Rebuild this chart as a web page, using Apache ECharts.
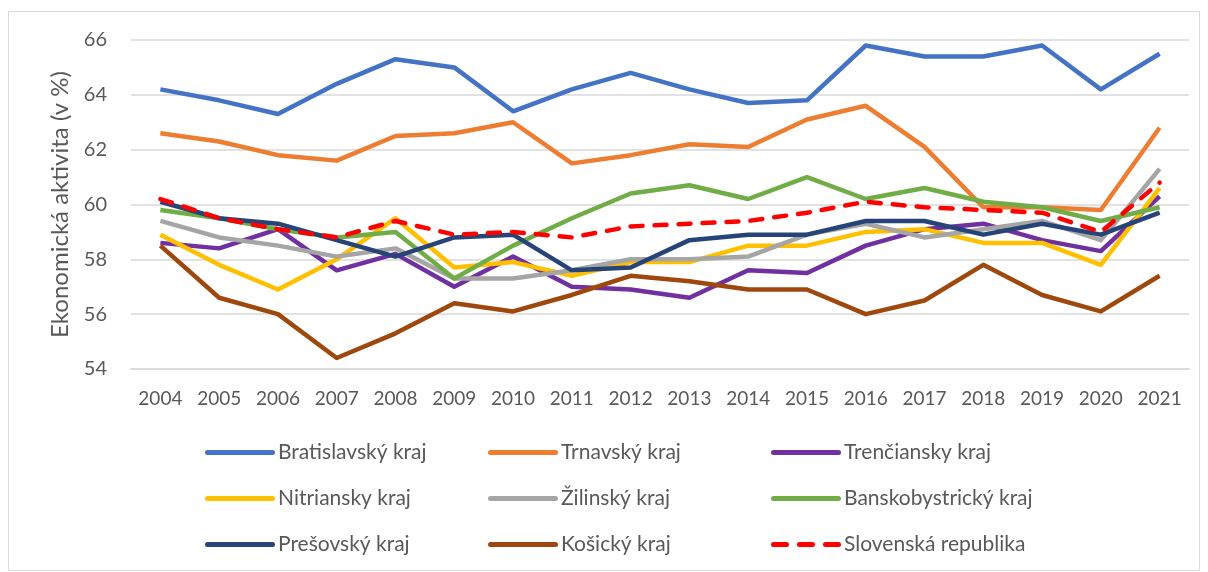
<!DOCTYPE html>
<html>
<head>
<meta charset="utf-8">
<script src="https://cdn.jsdelivr.net/npm/echarts@6/dist/echarts.min.js"></script>
<style>
  html, body { margin: 0; padding: 0; background: #fff; }
  #chart { width: 1208px; height: 572px; }
</style>
</head>
<body>
<div id="chart"></div>
<script>
// roky
const years = ['2004','2005','2006','2007','2008','2009','2010','2011','2012',
  '2013','2014','2015','2016','2017','2018','2019','2020','2021'];

// ekonomická aktivita v % podľa krajov
const bratislavsky      = [64.2, 63.8, 63.3, 64.4, 65.3, 65.0, 63.4, 64.2, 64.8, 64.2, 63.7, 63.8, 65.8, 65.4, 65.4, 65.8, 64.2, 65.5];
const trnavsky          = [62.6, 62.3, 61.8, 61.6, 62.5, 62.6, 63.0, 61.5, 61.8, 62.2, 62.1, 63.1, 63.6, 62.1, 59.9, 59.9, 59.8, 62.8];
const trenciansky       = [58.6, 58.4, 59.1, 57.6, 58.2, 57.0, 58.1, 57.0, 56.9, 56.6, 57.6, 57.5, 58.5, 59.1, 59.3, 58.7, 58.3, 60.3];
const nitriansky        = [58.9, 57.8, 56.9, 58.0, 59.5, 57.7, 57.9, 57.4, 57.9, 57.9, 58.5, 58.5, 59.0, 59.1, 58.6, 58.6, 57.8, 60.6];
const zilinsky          = [59.4, 58.8, 58.5, 58.1, 58.4, 57.3, 57.3, 57.6, 58.0, 58.0, 58.1, 58.9, 59.3, 58.8, 59.1, 59.4, 58.7, 61.3];
const banskobystricky   = [59.8, 59.5, 59.1, 58.8, 59.0, 57.3, 58.5, 59.5, 60.4, 60.7, 60.2, 61.0, 60.2, 60.6, 60.1, 59.9, 59.4, 59.9];
const presovsky         = [60.1, 59.5, 59.3, 58.7, 58.1, 58.8, 58.9, 57.6, 57.7, 58.7, 58.9, 58.9, 59.4, 59.4, 58.9, 59.3, 58.9, 59.7];
const kosicky           = [58.5, 56.6, 56.0, 54.4, 55.3, 56.4, 56.1, 56.7, 57.4, 57.2, 56.9, 56.9, 56.0, 56.5, 57.8, 56.7, 56.1, 57.4];
const slovenskaRepublika= [60.2, 59.5, 59.1, 58.8, 59.4, 58.9, 59.0, 58.8, 59.2, 59.3, 59.4, 59.7, 60.1, 59.9, 59.8, 59.7, 59.0, 60.8];

const yTicks = { min: 54, max: 66, step: 2 };

const textColor = '#595959';
const font = 'Lato, "Open Sans", sans-serif';

const seriesDefs = [
  { name: 'Bratislavský kraj', data: bratislavsky, color: '#4472C4' },
  { name: 'Trnavský kraj', data: trnavsky, color: '#ED7D31' },
  { name: 'Trenčiansky kraj', data: trenciansky, color: '#7030A0' },
  { name: 'Nitriansky kraj', data: nitriansky, color: '#FFC000' },
  { name: 'Žilinský kraj', data: zilinsky, color: '#A5A5A5' },
  { name: 'Banskobystrický kraj', data: banskobystricky, color: '#70AD47' },
  { name: 'Prešovský kraj', data: presovsky, color: '#264478' },
  { name: 'Košický kraj', data: kosicky, color: '#9E480E' },
  { name: 'Slovenská republika', data: slovenskaRepublika, color: '#FF0000', dashed: true }
];

// ikonky v legende: plná čiara, alebo tri čiarky
const solidIcon = 'path://M2.5,0h65a2.5,2.5 0 0 1 0,5h-65a2.5,2.5 0 0 1 0,-5z';
const dashIcon = 'path://M2.5,0h13a2.5,2.5 0 0 1 0,5h-13a2.5,2.5 0 0 1 0,-5z' +
  'M28.5,0h13a2.5,2.5 0 0 1 0,5h-13a2.5,2.5 0 0 1 0,-5z' +
  'M54.5,0h13a2.5,2.5 0 0 1 0,5h-13a2.5,2.5 0 0 1 0,-5z';

const chart = echarts.init(document.getElementById('chart'));

function legendColumn(names, left) {
  return {
    orient: 'vertical',
    left: left,
    top: 437,
    itemWidth: 70,
    itemHeight: 5,
    itemGap: 25,
    data: names.map(n => ({
      name: n,
      icon: seriesDefs.find(s => s.name === n).dashed ? dashIcon : solidIcon
    })),
    textStyle: { color: textColor, fontSize: 21, fontFamily: font, padding: [0, 0, 0, -2] }
  };
}

const option = {
  animation: false,
  backgroundColor: '#fff',
  graphic: [{
    type: 'rect',
    shape: { x: 8.5, y: 11.5, width: 1191, height: 559 },
    style: { fill: 'none', stroke: '#d9d9d9', lineWidth: 1 },
    silent: true
  }],
  grid: { left: 131, right: 19, top: 40, bottom: 203 },
  legend: [
    legendColumn(['Bratislavský kraj', 'Nitriansky kraj', 'Prešovský kraj'], 200),
    legendColumn(['Trnavský kraj', 'Žilinský kraj', 'Košický kraj'], 483),
    legendColumn(['Trenčiansky kraj', 'Banskobystrický kraj', 'Slovenská republika'], 766)
  ],
  xAxis: {
    type: 'category',
    data: years,
    boundaryGap: true,
    axisLine: { show: true, lineStyle: { color: '#d9d9d9', width: 1.5 } },
    axisTick: { show: false },
    axisLabel: { color: textColor, fontSize: 19, fontFamily: font, margin: 20 }
  },
  yAxis: {
    type: 'value',
    min: yTicks.min,
    max: yTicks.max,
    interval: yTicks.step,
    name: 'Ekonomická aktivita (v %)',
    nameLocation: 'middle',
    nameGap: 59,
    nameTextStyle: { color: textColor, fontSize: 24, fontFamily: font },
    axisLine: { show: false },
    axisTick: { show: false },
    axisLabel: { color: textColor, fontSize: 20, fontFamily: font, margin: 24 },
    splitLine: { lineStyle: { color: '#d9d9d9', width: 1.5 } }
  },
  series: seriesDefs.map(s => ({
    name: s.name,
    type: 'line',
    data: s.data,
    symbol: 'none',
    color: s.color,
    lineStyle: {
      color: s.color,
      width: 4.5,
      type: s.dashed ? [12, 12] : 'solid',
      cap: s.dashed ? 'round' : 'butt',
      join: 'round'
    }
  }))
};

chart.setOption(option);
</script>
</body>
</html>
